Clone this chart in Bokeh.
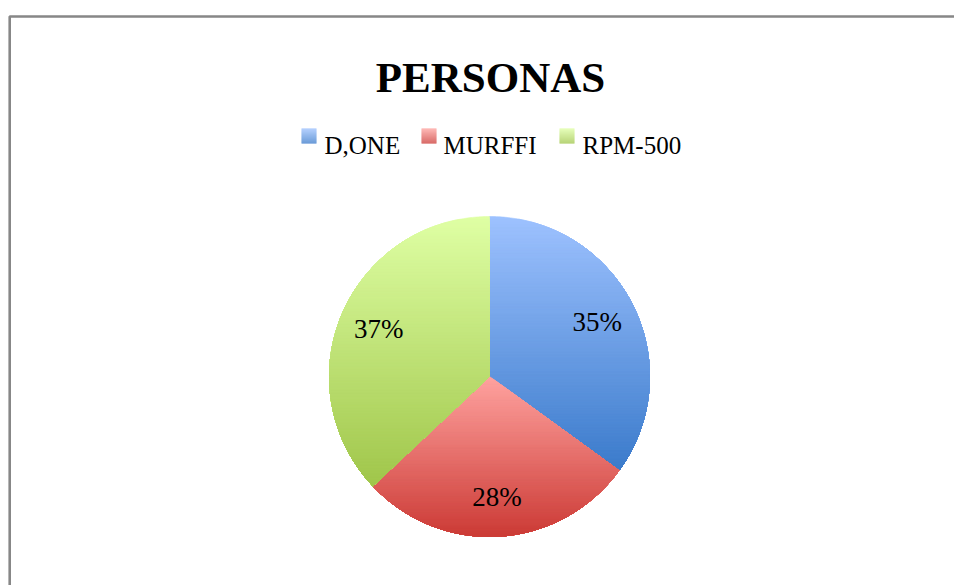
import numpy as np
from bokeh.plotting import figure
from bokeh.models import Range1d
from bokeh.core.properties import value
from bokeh.embed import file_html
from bokeh.resources import INLINE

# ---- data ----
title_text = "PERSONAS"
categories = ["D,ONE", "MURFFI", "RPM-500"]
values = [35, 28, 37]
top_colors = ["#9EC2FF", "#FFA3A0", "#DFFFA4"]
bottom_colors = ["#3B7BCB", "#CC3B36", "#A0C64B"]

# ---- layout (canvas pixels, y up) ----
W, H = 954, 585
CX, CY, R = 489.0, 209.0, 160.0
FONT = "Liberation Serif"

p = figure(width=W, height=H, output_backend="svg", toolbar_location=None,
           x_range=Range1d(0, W), y_range=Range1d(0, H), min_border=0,
           outline_line_color=None, background_fill_color="white",
           border_fill_color="white")
p.xaxis.visible = False
p.yaxis.visible = False
p.grid.visible = False


def hex2rgb(h):
    h = h.lstrip("#")
    return np.array([int(h[i:i + 2], 16) for i in (0, 2, 4)], dtype=float)


def mix(c1, c2, t):
    c = hex2rgb(c1) * (1 - t) + hex2rgb(c2) * t
    return "#%02x%02x%02x" % tuple(int(round(v)) for v in c)


def clip_below(poly, ytop):
    out = []
    n = len(poly)
    for i in range(n):
        (x1, y1), (x2, y2) = poly[i], poly[(i + 1) % n]
        in1, in2 = y1 <= ytop, y2 <= ytop
        if in1:
            out.append((x1, y1))
        if in1 != in2:
            t = (ytop - y1) / (y2 - y1)
            out.append((x1 + t * (x2 - x1), ytop))
    return out


total = float(sum(values))
xs, ys, cols = [], [], []
label_x, label_y, label_t = [], [], []
start = np.pi / 2
NB = 90
for v, ct, cb in zip(values, top_colors, bottom_colors):
    sweep = 2 * np.pi * v / total
    end = start - sweep
    angs = np.linspace(start, end, 200)
    poly = [(CX, CY)] + [(CX + R * np.cos(a), CY + R * np.sin(a)) for a in angs]
    ymin = min(pt[1] for pt in poly)
    ymax = max(pt[1] for pt in poly)
    for i in range(NB):
        ytop = ymax - (ymax - ymin) * i / NB
        t = (i + 0.5) / NB
        cp = clip_below(poly, ytop)
        if len(cp) >= 3:
            xs.append([q[0] for q in cp])
            ys.append([q[1] for q in cp])
            cols.append(mix(ct, cb, t))
    mid = (start + end) / 2
    label_x.append(CX + 0.755 * R * np.cos(mid))
    label_y.append(CY + 0.755 * R * np.sin(mid))
    label_t.append("%d%%" % round(100 * v / total))
    start = end

p.patches(xs, ys, fill_color=cols, line_color=cols, line_width=0.6)

p.text(label_x, label_y, text=label_t, text_font=value(FONT), text_font_size="27px",
       text_align="center", text_baseline="middle", text_color="black")

# title
p.text([490], [508], text=[title_text], text_font=value(FONT), text_font_size="43px",
       text_font_style="bold", text_align="center", text_baseline="alphabetic",
       text_color="black")

# legend
sq_left = [301, 421, 559]
txt_left = [324, 443, 582]
SQ = 15
sq_bottom = 442
qx0, qx1, qy0, qy1, qc = [], [], [], [], []
for xl, ct, cb in zip(sq_left, top_colors, bottom_colors):
    for j in range(SQ):
        qx0.append(xl); qx1.append(xl + SQ)
        qy1.append(sq_bottom + SQ - j); qy0.append(sq_bottom + SQ - j - 1)
        qc.append(mix(ct, cb, (j + 0.5) / SQ))
p.quad(left=qx0, right=qx1, bottom=qy0, top=qy1, fill_color=qc, line_color=None)
p.text(txt_left, [440] * 3, text=categories, text_font=value(FONT), text_font_size="25px",
       text_align="left", text_baseline="alphabetic", text_color="black")

# chart frame (left and top edges visible)
p.line([9.2, 9.2, W], [0, 569, 569], line_color="#878787", line_width=2.6)

open("out.html", "w").write(file_html(p, INLINE))
